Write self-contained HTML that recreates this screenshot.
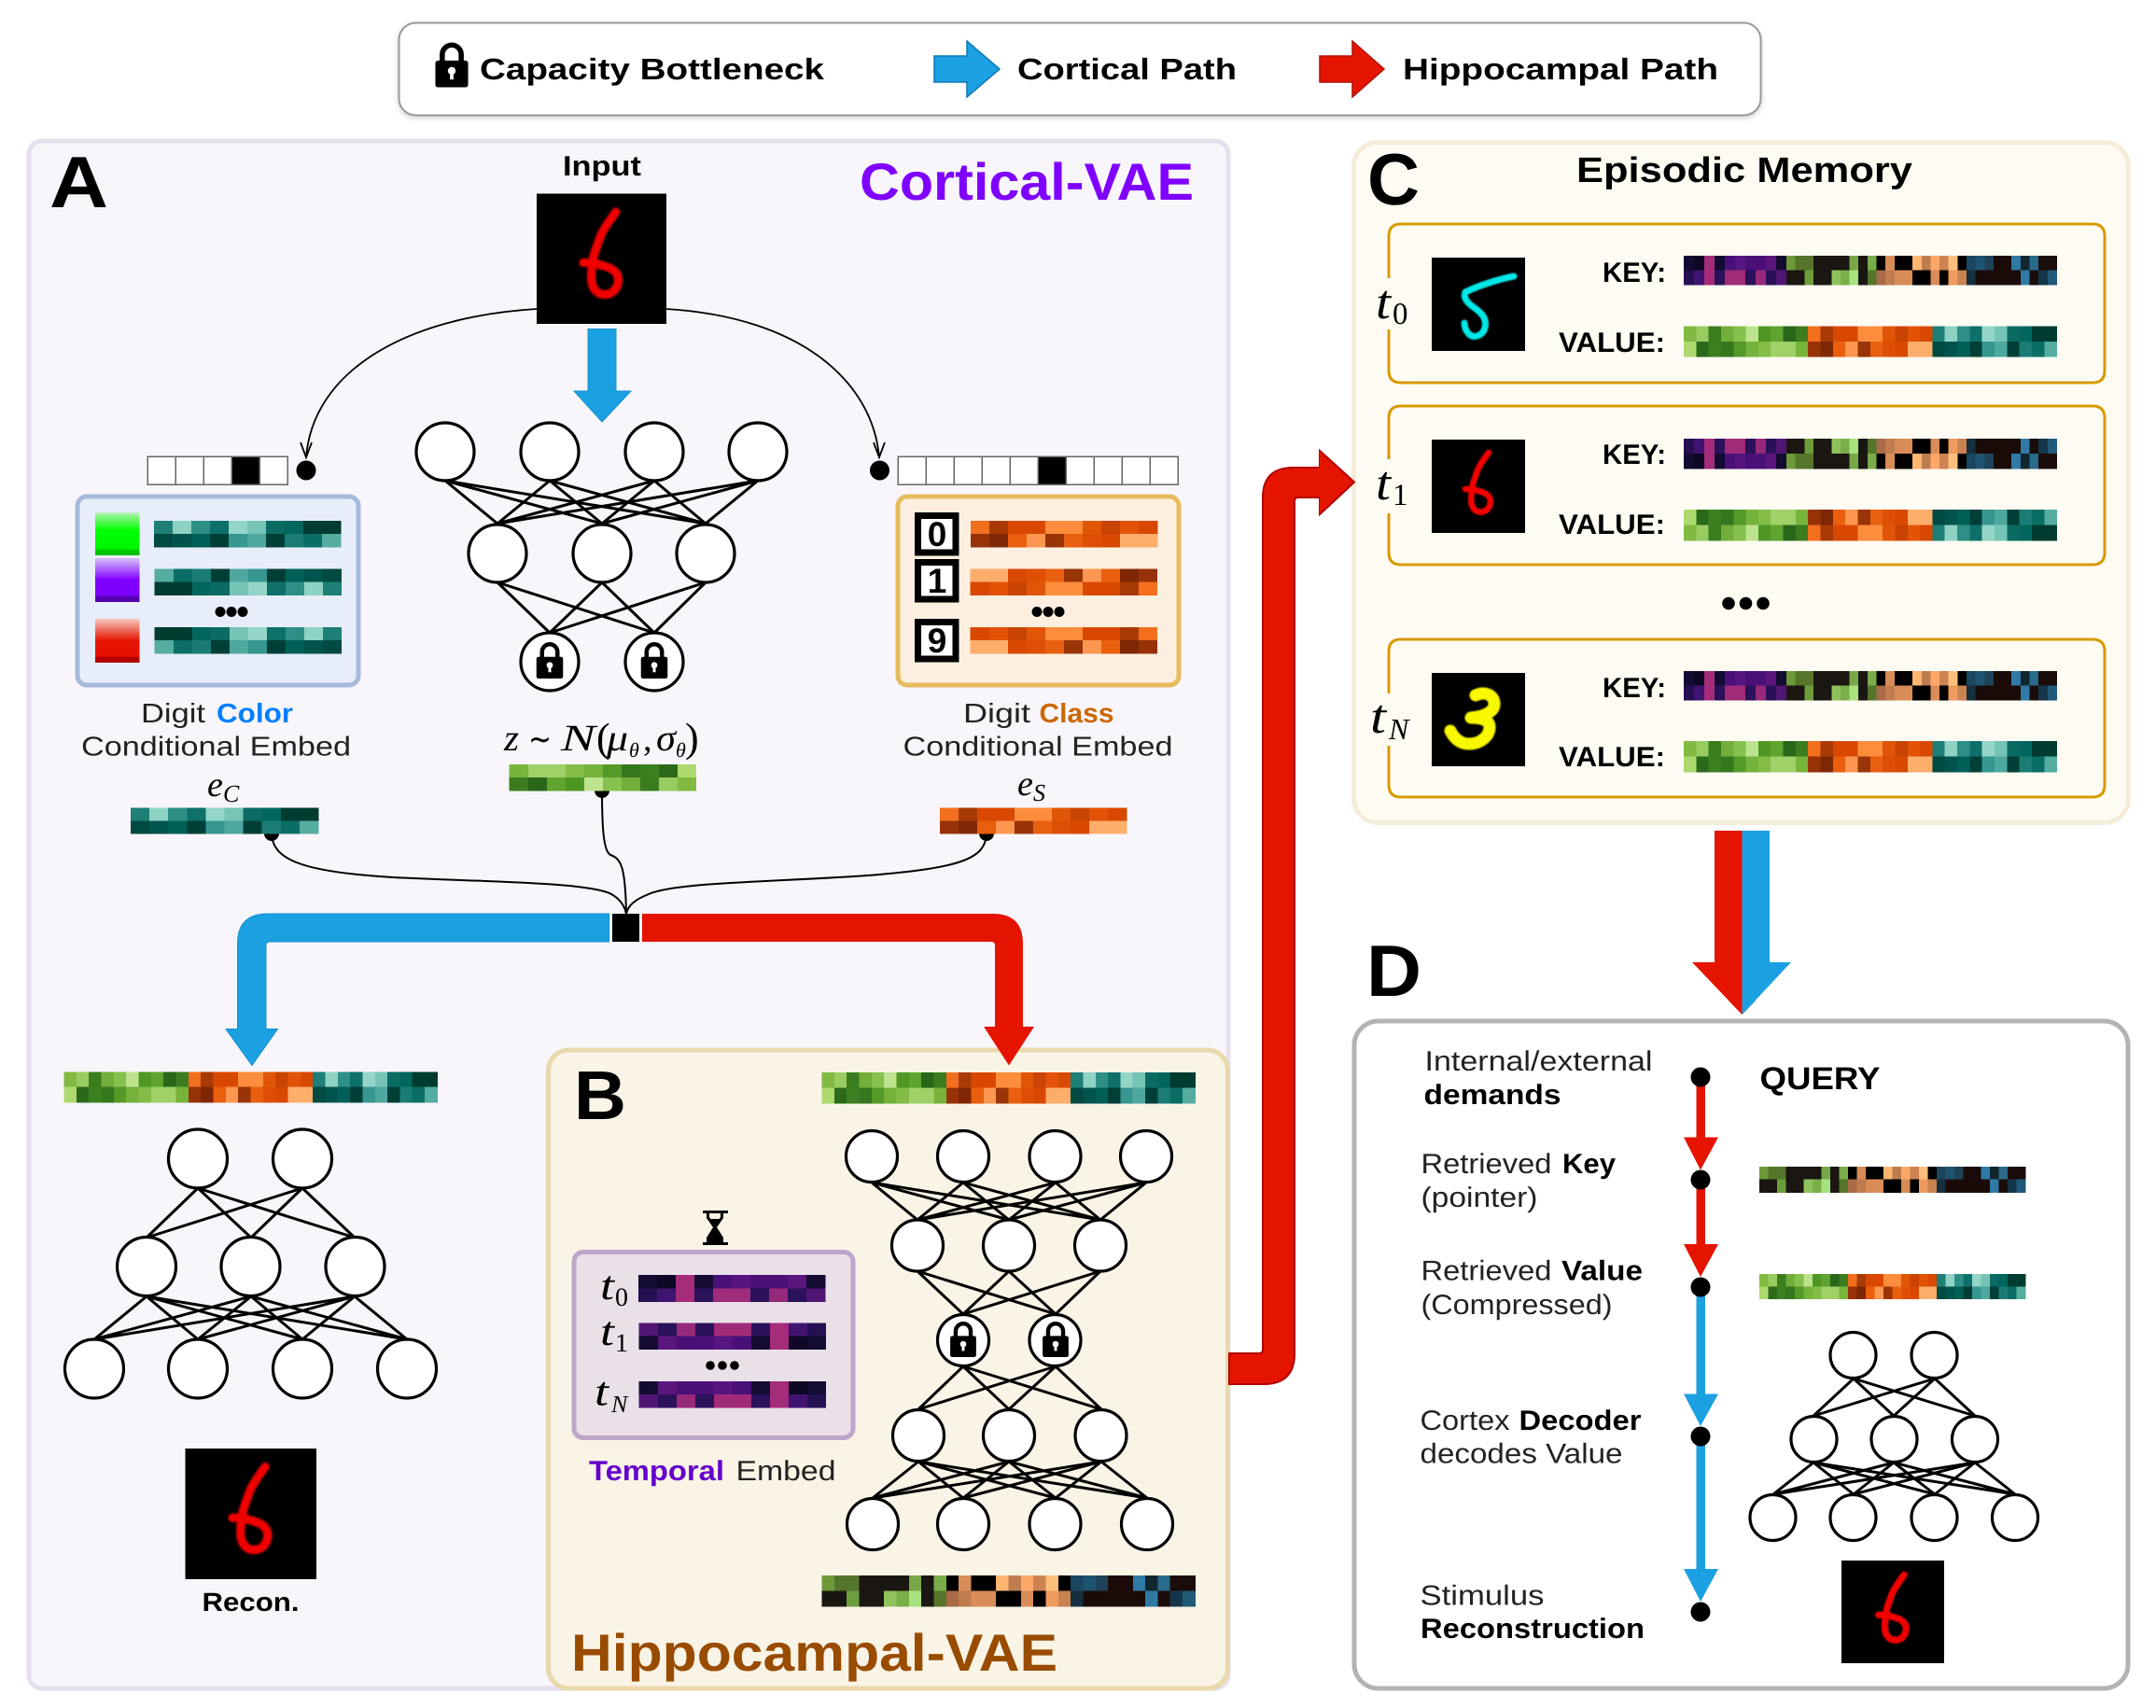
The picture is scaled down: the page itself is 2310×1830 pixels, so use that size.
<!DOCTYPE html>
<html><head><meta charset="utf-8"><title>Cortical and Hippocampal VAE</title>
<style>
html,body{margin:0;padding:0;background:#fff}
svg{display:block;position:absolute;left:0;top:0}
text{font-family:"Liberation Sans",sans-serif;fill:#222;text-rendering:geometricPrecision}
.b{font-weight:bold;fill:#000}
.m{font-family:"Liberation Serif",serif;font-style:italic;fill:#000}
.n{font-family:"Liberation Serif",serif;fill:#000}
.nn circle{fill:#fff;stroke:#000;stroke-width:3.2}
.ed{fill:none;stroke:#000;stroke-width:3}
.px{shape-rendering:crispEdges}
.dg{fill:none;stroke-linecap:round;stroke-linejoin:round;filter:blur(.8px)}
</style></head><body>
<svg width="2310" height="1830" viewBox="0 0 2310 1830" xmlns="http://www.w3.org/2000/svg">
<defs>
<g id="G1"><rect x="0" width="1.03" height="1.03" fill="#81b941"/><rect x="1" width="1.03" height="1.03" fill="#98cc60"/><rect x="2" width="1.03" height="1.03" fill="#3a7d1f"/><rect x="3" width="1.03" height="1.03" fill="#72ae3a"/><rect x="4" width="1.03" height="1.03" fill="#86c04e"/><rect x="5" width="1.03" height="1.03" fill="#bde38f"/><rect x="6" width="1.03" height="1.03" fill="#4f9724"/><rect x="7" width="1.03" height="1.03" fill="#5fa42e"/><rect x="8" width="1.03" height="1.03" fill="#2a661a"/><rect x="9" width="1.03" height="1.03" fill="#3d7c1e"/></g>
<g id="G2"><rect x="0" width="1.03" height="1.03" fill="#aed96f"/><rect x="1" width="1.03" height="1.03" fill="#2c6a1b"/><rect x="2" width="1.03" height="1.03" fill="#3b8020"/><rect x="3" width="1.03" height="1.03" fill="#34771d"/><rect x="4" width="1.03" height="1.03" fill="#559a28"/><rect x="5" width="1.03" height="1.03" fill="#74b23c"/><rect x="6" width="1.03" height="1.03" fill="#83bd47"/><rect x="7" width="1.03" height="1.03" fill="#a0d068"/><rect x="8" width="1.03" height="1.03" fill="#a0d068"/><rect x="9" width="1.03" height="1.03" fill="#78b43b"/></g>
<g id="O1"><rect x="0" width="1.03" height="1.03" fill="#f26f1e"/><rect x="1" width="1.03" height="1.03" fill="#a83b05"/><rect x="2" width="1.03" height="1.03" fill="#d94801"/><rect x="3" width="1.03" height="1.03" fill="#d94801"/><rect x="4" width="1.03" height="1.03" fill="#fd8d3c"/><rect x="5" width="1.03" height="1.03" fill="#fd8d3c"/><rect x="6" width="1.03" height="1.03" fill="#e05606"/><rect x="7" width="1.03" height="1.03" fill="#c94403"/><rect x="8" width="1.03" height="1.03" fill="#e25308"/><rect x="9" width="1.03" height="1.03" fill="#d94801"/></g>
<g id="O2"><rect x="0" width="1.03" height="1.03" fill="#973107"/><rect x="1" width="1.03" height="1.03" fill="#7f2704"/><rect x="2" width="1.03" height="1.03" fill="#e95f0e"/><rect x="3" width="1.03" height="1.03" fill="#fd9650"/><rect x="4" width="1.03" height="1.03" fill="#983406"/><rect x="5" width="1.03" height="1.03" fill="#e8600f"/><rect x="6" width="1.03" height="1.03" fill="#dd4f05"/><rect x="7" width="1.03" height="1.03" fill="#d94801"/><rect x="8" width="1.03" height="1.03" fill="#fdae6b"/><rect x="9" width="1.03" height="1.03" fill="#fdae6b"/></g>
<g id="T1"><rect x="0" width="1.03" height="1.03" fill="#1d7f76"/><rect x="1" width="1.03" height="1.03" fill="#8ed2c4"/><rect x="2" width="1.03" height="1.03" fill="#2d8f85"/><rect x="3" width="1.03" height="1.03" fill="#0e706a"/><rect x="4" width="1.03" height="1.03" fill="#93d6c9"/><rect x="5" width="1.03" height="1.03" fill="#76c4b6"/><rect x="6" width="1.03" height="1.03" fill="#0a6b63"/><rect x="7" width="1.03" height="1.03" fill="#01665e"/><rect x="8" width="1.03" height="1.03" fill="#003c30"/><rect x="9" width="1.03" height="1.03" fill="#003c30"/></g>
<g id="T2"><rect x="0" width="1.03" height="1.03" fill="#004a42"/><rect x="1" width="1.03" height="1.03" fill="#00544d"/><rect x="2" width="1.03" height="1.03" fill="#005f56"/><rect x="3" width="1.03" height="1.03" fill="#003f38"/><rect x="4" width="1.03" height="1.03" fill="#35978f"/><rect x="5" width="1.03" height="1.03" fill="#4fa89f"/><rect x="6" width="1.03" height="1.03" fill="#003f38"/><rect x="7" width="1.03" height="1.03" fill="#1a7c75"/><rect x="8" width="1.03" height="1.03" fill="#0a6e66"/><rect x="9" width="1.03" height="1.03" fill="#55aca0"/></g>
<g id="P1"><rect x="0" width="1.03" height="1.03" fill="#140b33"/><rect x="1" width="1.03" height="1.03" fill="#0d0725"/><rect x="2" width="1.03" height="1.03" fill="#a52c7a"/><rect x="3" width="1.03" height="1.03" fill="#140b33"/><rect x="4" width="1.03" height="1.03" fill="#481078"/><rect x="5" width="1.03" height="1.03" fill="#561580"/><rect x="6" width="1.03" height="1.03" fill="#4a1078"/><rect x="7" width="1.03" height="1.03" fill="#4a1078"/><rect x="8" width="1.03" height="1.03" fill="#5a167d"/><rect x="9" width="1.03" height="1.03" fill="#140b33"/></g>
<g id="P2"><rect x="0" width="1.03" height="1.03" fill="#241052"/><rect x="1" width="1.03" height="1.03" fill="#401470"/><rect x="2" width="1.03" height="1.03" fill="#a52c7a"/><rect x="3" width="1.03" height="1.03" fill="#2a1159"/><rect x="4" width="1.03" height="1.03" fill="#a02c79"/><rect x="5" width="1.03" height="1.03" fill="#a02c79"/><rect x="6" width="1.03" height="1.03" fill="#2a1159"/><rect x="7" width="1.03" height="1.03" fill="#96297a"/><rect x="8" width="1.03" height="1.03" fill="#2a1159"/><rect x="9" width="1.03" height="1.03" fill="#511573"/></g>
<g id="KA1"><rect x="0" width="1.03" height="1.03" fill="#6d993a"/><rect x="1" width="2.03" height="1.03" fill="#55752a"/><rect x="3" width="4.03" height="1.03" fill="#1a1612"/><rect x="7" width="1.03" height="1.03" fill="#78a748"/><rect x="8" width="1.03" height="1.03" fill="#1a1612"/><rect x="9" width="1.03" height="1.03" fill="#79ac4a"/><rect x="10" width="1.03" height="1.03" fill="#000"/><rect x="11" width="1.03" height="1.03" fill="#d98c57"/><rect x="12" width="2.03" height="1.03" fill="#000"/><rect x="14" width="1.03" height="1.03" fill="#fdb570"/><rect x="15" width="1.03" height="1.03" fill="#be7c4f"/><rect x="16" width="1.03" height="1.03" fill="#fda869"/><rect x="17" width="1.03" height="1.03" fill="#cd8352"/><rect x="18" width="1.03" height="1.03" fill="#fdbf7c"/><rect x="19" width="1.03" height="1.03" fill="#000"/><rect x="20" width="1.03" height="1.03" fill="#1b4660"/><rect x="21" width="1.03" height="1.03" fill="#1f5470"/><rect x="22" width="1.03" height="1.03" fill="#1e4258"/><rect x="23" width="2.03" height="1.03" fill="#1a0b08"/><rect x="25" width="1.03" height="1.03" fill="#2f7aa5"/><rect x="26" width="1.03" height="1.03" fill="#12262f"/><rect x="27" width="1.03" height="1.03" fill="#2a6a8a"/><rect x="28" width="2.03" height="1.03" fill="#1a0d0a"/></g>
<g id="KA2"><rect x="0" width="2.03" height="1.03" fill="#1a1612"/><rect x="2" width="1.03" height="1.03" fill="#6d9e3b"/><rect x="3" width="2.03" height="1.03" fill="#1a1612"/><rect x="5" width="1.03" height="1.03" fill="#8fc25c"/><rect x="6" width="1.03" height="1.03" fill="#7aae48"/><rect x="7" width="1.03" height="1.03" fill="#a8e27f"/><rect x="8" width="1.03" height="1.03" fill="#1a1612"/><rect x="9" width="1.03" height="1.03" fill="#55752a"/><rect x="10" width="1.03" height="1.03" fill="#a96a45"/><rect x="11" width="1.03" height="1.03" fill="#be7c4f"/><rect x="12" width="2.03" height="1.03" fill="#d98c57"/><rect x="14" width="2.03" height="1.03" fill="#000"/><rect x="16" width="1.03" height="1.03" fill="#d98c57"/><rect x="17" width="1.03" height="1.03" fill="#000"/><rect x="18" width="1.03" height="1.03" fill="#ef9a5e"/><rect x="19" width="1.03" height="1.03" fill="#ca8250"/><rect x="20" width="1.03" height="1.03" fill="#14303e"/><rect x="21" width="5.03" height="1.03" fill="#1a0b08"/><rect x="26" width="1.03" height="1.03" fill="#2f7aa5"/><rect x="27" width="1.03" height="1.03" fill="#1a0d0a"/><rect x="28" width="1.03" height="1.03" fill="#14364a"/><rect x="29" width="1.03" height="1.03" fill="#205a78"/></g>
<g id="GG"><use href="#G1"/><use href="#G2" y="1"/></g>
<g id="GS"><use href="#G2"/><use href="#G1" y="1"/></g>
<g id="OO"><use href="#O1"/><use href="#O2" y="1"/></g>
<g id="OS"><use href="#O2"/><use href="#O1" y="1"/></g>
<g id="TT"><use href="#T1"/><use href="#T2" y="1"/></g>
<g id="TS"><use href="#T2"/><use href="#T1" y="1"/></g>
<g id="PP"><use href="#P1"/><use href="#P2" y="1"/></g>
<g id="PS"><use href="#P2"/><use href="#P1" y="1"/></g>
<g id="val"><use href="#GG"/><use href="#OO" x="10"/><use href="#TT" x="20"/></g>
<g id="vals"><use href="#GS"/><use href="#OS" x="10"/><use href="#TS" x="20"/></g>
<g id="ka"><use href="#KA1"/><use href="#KA2" y="1"/></g>
<g id="kas"><use href="#KA2"/><use href="#KA1" y="1"/></g>
<symbol id="six" viewBox="0 0 100 100"><path class="dg" d="M61 14C55 22 51 28 49 33C46 42 43 48 43 55C41 66 42 74 49 77C56 79 62 75 63 67C63 60 58 57 50 55C45 53 40 53 36 53" stroke="#f20000" stroke-width="6.6"/></symbol>
<symbol id="lock" viewBox="0 0 40 52"><path d="M9 24V14A11 11 0 0 1 31 14V24" fill="none" stroke="#000" stroke-width="6"/><rect x="1" y="21" width="38" height="31" rx="3" fill="#000"/><circle cx="20" cy="33" r="4.5" fill="#fff"/><rect x="18" y="34" width="4" height="9" fill="#fff"/></symbol>
<linearGradient id="sg" x1="0" y1="0" x2="0" y2="1"><stop offset="0" stop-color="#aaf2aa"/><stop offset=".42" stop-color="#00ff00"/><stop offset=".85" stop-color="#00f500"/><stop offset=".88" stop-color="#00c800"/><stop offset="1" stop-color="#00c000"/></linearGradient>
<linearGradient id="sp" x1="0" y1="0" x2="0" y2="1"><stop offset="0" stop-color="#d8c0f8"/><stop offset=".5" stop-color="#8000ff"/><stop offset=".85" stop-color="#7c00f8"/><stop offset=".88" stop-color="#5a00b8"/><stop offset="1" stop-color="#5000a8"/></linearGradient>
<linearGradient id="sr" x1="0" y1="0" x2="0" y2="1"><stop offset="0" stop-color="#f8c8c0"/><stop offset=".5" stop-color="#e51400"/><stop offset=".85" stop-color="#e51000"/><stop offset=".88" stop-color="#b80000"/><stop offset="1" stop-color="#b00000"/></linearGradient>
</defs>

<!-- Legend -->
<rect x="427.500" y="24.500" width="1459" height="99" rx="18" fill="#fff" stroke="#999" stroke-width="2" style="filter:drop-shadow(0 2px 3px rgba(0,0,0,.18))"/>
<use href="#lock" x="465" y="45.500" width="38" height="48"/>
<text class="b" x="514" y="85" font-size="32" textLength="369" lengthAdjust="spacingAndGlyphs">Capacity Bottleneck</text>
<path d="M1001 60H1036V44L1071 74L1036 104V88H1001Z" fill="#1ba1e2" stroke="#0f76b5" stroke-width="1.5"/>
<text class="b" x="1090" y="85" font-size="32" textLength="235" lengthAdjust="spacingAndGlyphs">Cortical Path</text>
<path d="M1414 60H1449V44L1483 74L1449 104V88H1414Z" fill="#e51400" stroke="#b30f00" stroke-width="1.5"/>
<text class="b" x="1503" y="85" font-size="32" textLength="338" lengthAdjust="spacingAndGlyphs">Hippocampal Path</text>

<!-- Panel A -->
<rect x="31" y="151" width="1285" height="1658" rx="14" fill="#f8f6fb" stroke="#e6e0ee" stroke-width="5"/>
<text class="b" x="53" y="222" font-size="78" textLength="63" lengthAdjust="spacingAndGlyphs">A</text>
<text class="b" x="603" y="188" font-size="30" textLength="84" lengthAdjust="spacingAndGlyphs">Input</text>
<text class="b" x="921" y="214" font-size="56" style="fill:#7f00ff" textLength="358" lengthAdjust="spacingAndGlyphs">Cortical-VAE</text>
<rect x="575" y="207.500" width="139" height="139.500" fill="#000"/>
<use href="#six" x="575" y="207.500" width="139" height="139.500"/>
<path d="M575 331C430 340 335 400 328 490M322 474L328 490L334 474M714 331C860 340 935 410 942 490M936 474L942 490L948 474" fill="none" stroke="#000" stroke-width="1.8"/>
<path d="M630 352.500H660V419H676L645 452L615 419H630Z" fill="#1ba1e2" stroke="#1690cc" stroke-width="1"/>
<!-- one-hot -->
<g class="px" fill="#fff" stroke="#666" stroke-width="1.5">
<rect x="158" y="489" width="30" height="30"/><rect x="188" y="489" width="30" height="30"/><rect x="218" y="489" width="30" height="30"/><rect x="248" y="489" width="30" height="30" fill="#000"/><rect x="278" y="489" width="30" height="30"/>
<rect x="962" y="489" width="30" height="30"/><rect x="992" y="489" width="30" height="30"/><rect x="1022" y="489" width="30" height="30"/><rect x="1052" y="489" width="30" height="30"/><rect x="1082" y="489" width="30" height="30"/><rect x="1112" y="489" width="30" height="30" fill="#000"/><rect x="1142" y="489" width="30" height="30"/><rect x="1172" y="489" width="30" height="30"/><rect x="1202" y="489" width="30" height="30"/><rect x="1232" y="489" width="30" height="30"/>
</g>
<circle cx="328" cy="504" r="10.500"/><circle cx="942.500" cy="504" r="10.500"/>
<!-- Encoder -->
<path class="ed" d="M477 515L533 561M477 515L645 561M477 515L756 561M589 515L533 561M589 515L645 561M589 515L756 561M701 515L533 561M701 515L645 561M701 515L756 561M812 515L533 561M812 515L645 561M812 515L756 561M533 624L589 678M533 624L701 678M645 624L589 678M645 624L701 678M756 624L589 678M756 624L701 678"/>
<g class="nn"><circle cx="477" cy="484" r="31"/><circle cx="589" cy="484" r="31"/><circle cx="701" cy="484" r="31"/><circle cx="812" cy="484" r="31"/><circle cx="533" cy="593" r="31"/><circle cx="645" cy="593" r="31"/><circle cx="756" cy="593" r="31"/><circle cx="589" cy="709" r="31"/><circle cx="701" cy="709" r="31"/></g>
<use href="#lock" x="574" y="688" width="30" height="39"/><use href="#lock" x="686" y="688" width="30" height="39"/>
<!-- Color panel -->
<rect x="83" y="532" width="301" height="202" rx="10" fill="#e7eef9" stroke="#a6bbdb" stroke-width="5"/>
<rect x="102" y="549.500" width="47.500" height="45.500" fill="url(#sg)"/><rect x="102" y="598" width="47.500" height="47" fill="url(#sp)"/><rect x="102" y="663" width="47.500" height="47" fill="url(#sr)"/>
<g class="px">
<use href="#TT" transform="translate(165,558) scale(20,14)"/>
<use href="#TS" transform="translate(366,609.500) scale(-20,14)"/>
<use href="#TT" transform="translate(366,672) scale(-20,14)"/>
</g>
<circle cx="236" cy="655.500" r="5.500"/><circle cx="248" cy="655.500" r="5.500"/><circle cx="260" cy="655.500" r="5.500"/>
<text x="151" y="774" font-size="29" textLength="69" lengthAdjust="spacingAndGlyphs">Digit</text>
<text x="232" y="774" font-size="29" font-weight="bold" style="fill:#0080ff" textLength="82" lengthAdjust="spacingAndGlyphs">Color</text>
<text x="87" y="809.500" font-size="29" textLength="289" lengthAdjust="spacingAndGlyphs">Conditional Embed</text>
<!-- Class panel -->
<rect x="962" y="532" width="301" height="202" rx="10" fill="#fdefe0" stroke="#e6bc5e" stroke-width="5"/>
<g fill="#fff" stroke="#000" stroke-width="7" class="px"><rect x="983.500" y="552.500" width="40.500" height="39.500"/><rect x="983.500" y="602.500" width="40.500" height="39.500"/><rect x="983.500" y="666.500" width="40.500" height="39.500"/></g>
<text class="b" x="1004" y="585" font-size="37" text-anchor="middle">0</text>
<text class="b" x="1004" y="635" font-size="37" text-anchor="middle">1</text>
<text class="b" x="1004" y="699" font-size="37" text-anchor="middle">9</text>
<g class="px">
<use href="#OO" transform="translate(1040,558) scale(20,14)"/>
<use href="#OS" transform="translate(1240,609.500) scale(-20,14)"/>
<use href="#OO" transform="translate(1240,672) scale(-20,14)"/>
</g>
<circle cx="1111" cy="655.500" r="5.500"/><circle cx="1123" cy="655.500" r="5.500"/><circle cx="1135" cy="655.500" r="5.500"/>
<text x="1032" y="774" font-size="29" textLength="72" lengthAdjust="spacingAndGlyphs">Digit</text>
<text x="1113.500" y="774" font-size="29" font-weight="bold" style="fill:#cc6600" textLength="80" lengthAdjust="spacingAndGlyphs">Class</text>
<text x="967.500" y="809.500" font-size="29" textLength="289" lengthAdjust="spacingAndGlyphs">Conditional Embed</text>
<!-- z -->
<text class="m" x="540" y="804" font-size="40" textLength="16" lengthAdjust="spacingAndGlyphs">z</text>
<text class="n" x="566" y="804" font-size="36" textLength="25" lengthAdjust="spacingAndGlyphs">∼</text>
<text class="m" x="601" y="804" font-size="40" textLength="37" lengthAdjust="spacingAndGlyphs">N</text>
<text class="n" x="639" y="805" font-size="44">(</text>
<text class="m" x="650" y="804" font-size="40" textLength="23" lengthAdjust="spacingAndGlyphs">μ</text>
<text class="m" x="674" y="811" font-size="22">θ</text>
<text class="n" x="689" y="804" font-size="38">,</text>
<text class="m" x="703" y="804" font-size="40" textLength="21" lengthAdjust="spacingAndGlyphs">σ</text>
<text class="m" x="724" y="811" font-size="22">θ</text>
<text class="n" x="734" y="805" font-size="44">)</text>
<!-- connector lines -->
<path d="M291 893C292 920 320 934 421 940C520 945 630 945 655 958C664 963 669 970 671 979M1057 893C1056 920 1030 930 930 938C830 945 725 945 695 958C680 964 673 970 671 979M645 847C645 890 647 912 654 916C666 920 670 930 671 979" fill="none" stroke="#000" stroke-width="2"/>
<circle cx="645" cy="847" r="8"/><circle cx="291" cy="893" r="8"/><circle cx="1057" cy="893" r="8"/>
<g class="px">
<use href="#GS" transform="translate(746,819) scale(-20,14)"/>
<use href="#TT" transform="translate(140,865.500) scale(20.100,13.800)"/>
<use href="#OO" transform="translate(1007,865.500) scale(20,13.800)"/>
</g>
<text class="m" x="222" y="853" font-size="38">e</text><text class="m" x="239" y="859" font-size="26">C</text>
<text class="m" x="1090" y="852" font-size="38">e</text><text class="m" x="1107" y="858" font-size="26">S</text>
<!-- main arrows -->
<path d="M652.500 979H287Q254.500 979 254.500 1011V1102.500H242L270 1141.500L297.500 1102.500H285V1013Q285 1009 289 1009H652.500Z" fill="#1ba1e2" stroke="#1690cc" stroke-width="1"/>
<rect x="656" y="979" width="29" height="30" fill="#000"/>
<path d="M688 979H1064Q1096 979 1096 1011V1100H1066V1013Q1066 1009 1062 1009H688Z" fill="#e51400"/>
<!-- Cortical decoder -->
<use class="px" href="#val" transform="translate(68.500,1148.500) scale(13.330,16.200)"/>
<path class="ed" d="M212 1273L157 1326M212 1273L269 1326M212 1273L380 1326M324 1273L157 1326M324 1273L269 1326M324 1273L380 1326M157 1389L101 1435M157 1389L212 1435M157 1389L324 1435M157 1389L436 1435M269 1389L101 1435M269 1389L212 1435M269 1389L324 1435M269 1389L436 1435M380 1389L101 1435M380 1389L212 1435M380 1389L324 1435M380 1389L436 1435"/>
<g class="nn"><circle cx="212" cy="1241.500" r="31.500"/><circle cx="324" cy="1241.500" r="31.500"/><circle cx="157" cy="1357" r="31.500"/><circle cx="268.500" cy="1357" r="31.500"/><circle cx="380.500" cy="1357" r="31.500"/><circle cx="101" cy="1466.500" r="31.500"/><circle cx="212" cy="1466.500" r="31.500"/><circle cx="324" cy="1466.500" r="31.500"/><circle cx="436" cy="1466.500" r="31.500"/></g>
<rect x="198.500" y="1552" width="140.500" height="140" fill="#000"/>
<use href="#six" x="198.500" y="1552" width="140.500" height="140"/>
<text class="b" x="216.500" y="1726" font-size="28" textLength="104" lengthAdjust="spacingAndGlyphs">Recon.</text>

<!-- Panel B -->
<rect x="587.500" y="1125" width="728" height="684" rx="22" fill="#faf4e6" stroke="#e8d8ac" stroke-width="5"/>
<path d="M1054 1100H1108L1081 1141.500Z" fill="#e51400"/>
<text class="b" x="615" y="1199" font-size="74" textLength="56" lengthAdjust="spacingAndGlyphs">B</text>
<text class="b" x="612" y="1790" font-size="56" style="fill:#994c00" textLength="521" lengthAdjust="spacingAndGlyphs">Hippocampal-VAE</text>
<use class="px" href="#val" transform="translate(880.500,1149) scale(13.330,16.500)"/>
<use class="px" href="#ka" transform="translate(880.500,1688) scale(13.330,16.500)"/>
<path class="ed" d="M934 1267L983 1307M934 1267L1081 1307M934 1267L1179 1307M1032 1267L983 1307M1032 1267L1081 1307M1032 1267L1179 1307M1131 1267L983 1307M1131 1267L1081 1307M1131 1267L1179 1307M1228 1267L983 1307M1228 1267L1081 1307M1228 1267L1179 1307M983 1362L1032 1408M983 1362L1131 1408M1081 1362L1032 1408M1081 1362L1131 1408M1179 1362L1032 1408M1179 1362L1131 1408M1032 1464L984 1510M1032 1464L1081 1510M1032 1464L1180 1510M1131 1464L984 1510M1131 1464L1081 1510M1131 1464L1180 1510M984 1566L935 1605M984 1566L1032 1605M984 1566L1131 1605M984 1566L1229 1605M1081 1566L935 1605M1081 1566L1032 1605M1081 1566L1131 1605M1081 1566L1229 1605M1180 1566L935 1605M1180 1566L1032 1605M1180 1566L1131 1605M1180 1566L1229 1605"/>
<g class="nn"><circle cx="934" cy="1239" r="27.500"/><circle cx="1032" cy="1239" r="27.500"/><circle cx="1130.500" cy="1239" r="27.500"/><circle cx="1228" cy="1239" r="27.500"/><circle cx="983" cy="1334.500" r="27.500"/><circle cx="1081" cy="1334.500" r="27.500"/><circle cx="1179" cy="1334.500" r="27.500"/><circle cx="1032" cy="1436" r="27.500"/><circle cx="1130.500" cy="1436" r="27.500"/><circle cx="984" cy="1538" r="27.500"/><circle cx="1081" cy="1538" r="27.500"/><circle cx="1179.500" cy="1538" r="27.500"/><circle cx="935" cy="1633" r="27.500"/><circle cx="1032" cy="1633" r="27.500"/><circle cx="1130.500" cy="1633" r="27.500"/><circle cx="1229" cy="1633" r="27.500"/></g>
<use href="#lock" x="1017" y="1416" width="30" height="38"/><use href="#lock" x="1116" y="1416" width="30" height="38"/>
<!-- hourglass -->
<rect x="753" y="1297" width="27" height="3"/><rect x="753" y="1331" width="27" height="3"/>
<path d="M757 1300V1305L764 1315L757 1326V1331H775V1326L768 1315L775 1305V1300H772V1304L766 1314L760 1304V1300Z"/>
<path d="M760 1306H772L766 1314ZM766 1320L772 1330H760Z"/>
<!-- Temporal -->
<rect x="615" y="1341.500" width="299" height="199" rx="10" fill="#eae1e8" stroke="#bca6ca" stroke-width="5"/>
<g class="px">
<use href="#PP" transform="translate(684,1366) scale(20,14.300)"/>
<use href="#PS" transform="translate(885,1417.500) scale(-20,14)"/>
<use href="#PP" transform="translate(885,1480) scale(-20,14)"/>
</g>
<text class="m" x="643" y="1392" font-size="44" textLength="15" lengthAdjust="spacingAndGlyphs">t</text><text class="n" x="659" y="1399" font-size="28">0</text>
<text class="m" x="643" y="1441" font-size="44" textLength="15" lengthAdjust="spacingAndGlyphs">t</text><text class="n" x="659" y="1448" font-size="28">1</text>
<text class="m" x="637" y="1505.500" font-size="44" textLength="15" lengthAdjust="spacingAndGlyphs">t</text><text class="m" x="655" y="1513" font-size="26">N</text>
<circle cx="761" cy="1463" r="4.800"/><circle cx="774" cy="1463" r="4.800"/><circle cx="787" cy="1463" r="4.800"/>
<text x="631" y="1586" font-size="30" font-weight="bold" style="fill:#6600cc" textLength="145" lengthAdjust="spacingAndGlyphs">Temporal</text>
<text x="788.500" y="1586" font-size="30" textLength="107" lengthAdjust="spacingAndGlyphs">Embed</text>

<!-- Red connector to C -->
<path d="M1317 1450H1349Q1353 1450 1353 1446V533Q1353 501 1386 501H1414V483L1451 516.500L1414 551V533H1391Q1387 533 1387 537V1450Q1387 1483 1354 1483H1317Z" fill="#e51400" stroke="#b30000" stroke-width="2"/>

<!-- Panel C -->
<rect x="1450.500" y="152.500" width="830" height="729" rx="26" fill="#fefbf3" stroke="#f5edda" stroke-width="5"/>
<path d="M1414 483L1451 516.500L1414 551" fill="#e51400" stroke="#b30000" stroke-width="2"/>
<text class="b" x="1465" y="219" font-size="78" textLength="56" lengthAdjust="spacingAndGlyphs">C</text>
<text class="b" x="1689" y="195" font-size="38" textLength="360" lengthAdjust="spacingAndGlyphs">Episodic Memory</text>
<path d="M1488 298V253Q1488 240 1501 240H2242Q2255 240 2255 253V397Q2255 410 2242 410H1501Q1488 410 1488 397V353M1488 492V448Q1488 435 1501 435H2242Q2255 435 2255 448V592Q2255 605 2242 605H1501Q1488 605 1488 592V550M1488 743V698Q1488 685 1501 685H2242Q2255 685 2255 698V841Q2255 854 2242 854H1501Q1488 854 1488 841V799" fill="none" stroke="#d79b00" stroke-width="3"/>
<text class="m" x="1474" y="341" font-size="52" textLength="16" lengthAdjust="spacingAndGlyphs">t</text><text class="n" x="1492" y="347" font-size="33">0</text>
<text class="m" x="1474" y="535" font-size="52" textLength="16" lengthAdjust="spacingAndGlyphs">t</text><text class="n" x="1492" y="541" font-size="33">1</text>
<text class="m" x="1468" y="785" font-size="52" textLength="17" lengthAdjust="spacingAndGlyphs">t</text><text class="m" x="1488" y="792" font-size="32">N</text>
<rect x="1534" y="276" width="100" height="100" fill="#000"/>
<path class="dg" transform="translate(1534,276)" d="M88 20C72 23 50 30 36 37C33 44 40 50 46 54C56 61 60 68 56 78C52 85 44 86 40 82C36 78 35 74 35 70" stroke="#00e8e8" stroke-width="7"/>
<rect x="1534" y="471" width="100" height="100" fill="#000"/>
<use href="#six" x="1534" y="471" width="100" height="100"/>
<rect x="1534" y="721" width="100" height="100" fill="#000"/>
<path class="dg" transform="translate(1534,721)" d="M47 24C55 20 66 22 67 32C68 40 60 46 42 48C52 48 62 50 62 58C62 68 52 76 40 76C30 76 24 70 20 62" stroke="#f8f800" stroke-width="13"/>
<text class="b" x="1717" y="302" font-size="30" textLength="68" lengthAdjust="spacingAndGlyphs">KEY:</text>
<text class="b" x="1670" y="377" font-size="30" textLength="114" lengthAdjust="spacingAndGlyphs">VALUE:</text>
<text class="b" x="1717" y="497" font-size="30" textLength="68" lengthAdjust="spacingAndGlyphs">KEY:</text>
<text class="b" x="1670" y="572" font-size="30" textLength="114" lengthAdjust="spacingAndGlyphs">VALUE:</text>
<text class="b" x="1717" y="747" font-size="30" textLength="68" lengthAdjust="spacingAndGlyphs">KEY:</text>
<text class="b" x="1670" y="821" font-size="30" textLength="114" lengthAdjust="spacingAndGlyphs">VALUE:</text>
<g class="px">
<use href="#PP" transform="translate(1804,274) scale(11,15.500)"/><use href="#ka" transform="translate(1914,274) scale(9.650,15.500)"/>
<use href="#val" transform="translate(1804,349.500) scale(13.320,16.300)"/>
<use href="#PS" transform="translate(1804,470) scale(11,16)"/><use href="#kas" transform="translate(1914,470) scale(9.650,16)"/>
<use href="#vals" transform="translate(1804,546) scale(13.320,16.500)"/>
<use href="#PP" transform="translate(1804,719) scale(11,15.500)"/><use href="#ka" transform="translate(1914,719) scale(9.650,15.500)"/>
<use href="#val" transform="translate(1804,794) scale(13.320,16.500)"/>
</g>
<circle cx="1852" cy="646.500" r="6.800"/><circle cx="1870.500" cy="646.500" r="6.800"/><circle cx="1889" cy="646.500" r="6.800"/>

<!-- C to D arrow -->
<path d="M1837 890H1866.500V1087L1813 1031H1837Z" fill="#e51400"/>
<path d="M1866.500 890H1896V1031H1919L1866.500 1087Z" fill="#1ba1e2"/>

<!-- Panel D -->
<rect x="1451" y="1094" width="829" height="715" rx="26" fill="#fff" stroke="#b3b3b3" stroke-width="5"/>
<path d="M1852 1072L1866.500 1087L1881 1072Z" fill="#e51400"/><path d="M1866.500 1072V1087L1881 1072Z" fill="#1ba1e2"/>
<text class="b" x="1464" y="1067" font-size="78" textLength="59" lengthAdjust="spacingAndGlyphs">D</text>
<text x="1526.500" y="1147" font-size="30" textLength="244" lengthAdjust="spacingAndGlyphs">Internal/external</text>
<text class="b" x="1525.500" y="1183" font-size="30" textLength="147" lengthAdjust="spacingAndGlyphs">demands</text>
<text x="1522.500" y="1257" font-size="30" textLength="140" lengthAdjust="spacingAndGlyphs">Retrieved</text>
<text class="b" x="1674" y="1257" font-size="30" textLength="57" lengthAdjust="spacingAndGlyphs">Key</text>
<text x="1522.500" y="1293" font-size="30" textLength="125" lengthAdjust="spacingAndGlyphs">(pointer)</text>
<text x="1522.500" y="1371.500" font-size="30" textLength="140" lengthAdjust="spacingAndGlyphs">Retrieved</text>
<text class="b" x="1673" y="1371.500" font-size="30" textLength="87" lengthAdjust="spacingAndGlyphs">Value</text>
<text x="1522.500" y="1408" font-size="30" textLength="205" lengthAdjust="spacingAndGlyphs">(Compressed)</text>
<text x="1521.500" y="1532" font-size="30" textLength="96" lengthAdjust="spacingAndGlyphs">Cortex</text>
<text class="b" x="1627.500" y="1532" font-size="30" textLength="131" lengthAdjust="spacingAndGlyphs">Decoder</text>
<text x="1521.500" y="1567.500" font-size="30" textLength="217" lengthAdjust="spacingAndGlyphs">decodes Value</text>
<text x="1521.500" y="1719.500" font-size="30" textLength="133" lengthAdjust="spacingAndGlyphs">Stimulus</text>
<text class="b" x="1522" y="1755" font-size="30" textLength="240" lengthAdjust="spacingAndGlyphs">Reconstruction</text>
<text class="b" x="1885.500" y="1167" font-size="34" textLength="129" lengthAdjust="spacingAndGlyphs">QUERY</text>
<path d="M1817.500 1154H1827V1218.500H1841L1822 1253.500L1804 1218.500H1817.500ZM1817.500 1264H1827V1333H1841L1822 1368L1804 1333H1817.500Z" fill="#e51400"/>
<path d="M1817.500 1379H1827V1493.500H1841L1822 1528L1804 1493.500H1817.500ZM1817.500 1539H1827V1681H1841L1822 1716L1804 1681H1817.500Z" fill="#1ba1e2"/>
<circle cx="1822" cy="1154" r="10.500"/><circle cx="1822" cy="1264" r="10.500"/><circle cx="1822" cy="1379" r="10.500"/><circle cx="1822" cy="1539" r="10.500"/><circle cx="1822" cy="1727" r="10.500"/>
<use class="px" href="#ka" transform="translate(1885,1250) scale(9.500,13.700)"/>
<use class="px" href="#val" transform="translate(1885,1365) scale(9.500,13.300)"/>
<path class="ed" d="M1986 1477L1943 1517M1986 1477L2029 1517M1986 1477L2116 1517M2073 1477L1943 1517M2073 1477L2029 1517M2073 1477L2116 1517M1943 1567L1900 1601M1943 1567L1986 1601M1943 1567L2073 1601M1943 1567L2159 1601M2029 1567L1900 1601M2029 1567L1986 1601M2029 1567L2073 1601M2029 1567L2159 1601M2116 1567L1900 1601M2116 1567L1986 1601M2116 1567L2073 1601M2116 1567L2159 1601"/>
<g class="nn"><circle cx="1985.500" cy="1452" r="24.500"/><circle cx="2072.500" cy="1452" r="24.500"/><circle cx="1943.500" cy="1542" r="24.500"/><circle cx="2029.500" cy="1542" r="24.500"/><circle cx="2116" cy="1542" r="24.500"/><circle cx="1899.500" cy="1626" r="24.500"/><circle cx="1985.500" cy="1626" r="24.500"/><circle cx="2072.500" cy="1626" r="24.500"/><circle cx="2159" cy="1626" r="24.500"/></g>
<rect x="1973" y="1672" width="110" height="110" fill="#000"/>
<use href="#six" x="1973" y="1672" width="110" height="110"/>
</svg>
</body></html>
